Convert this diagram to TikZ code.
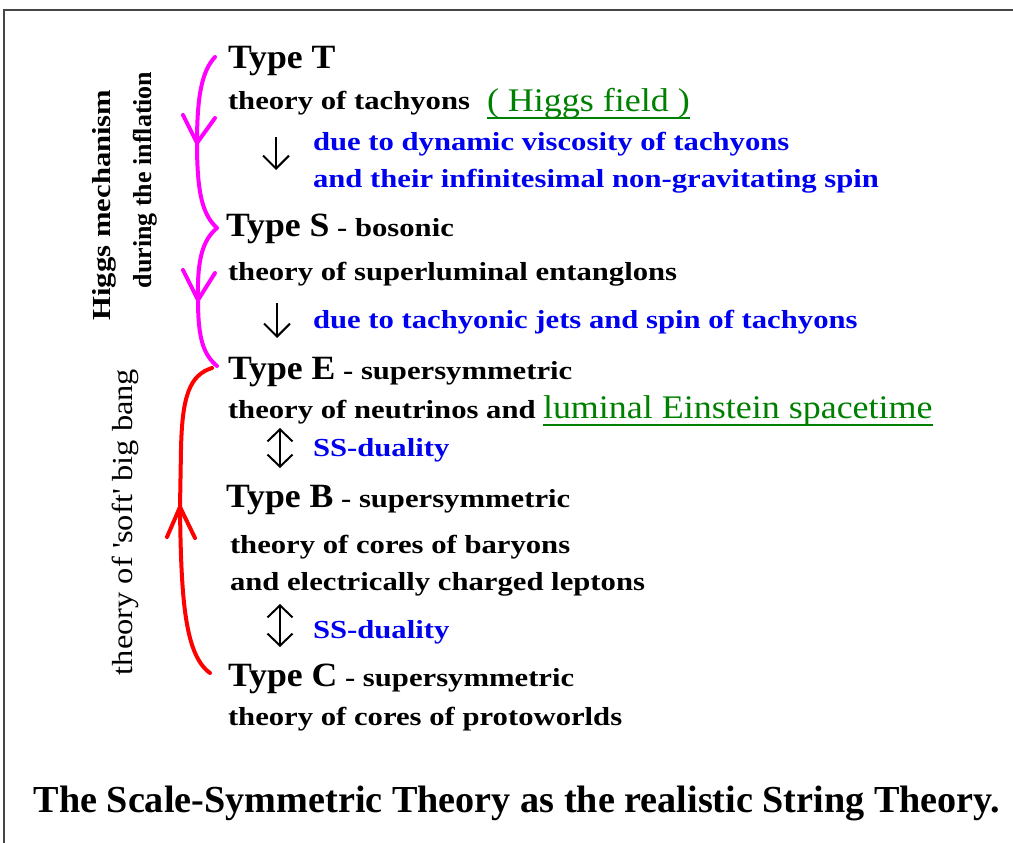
\documentclass[tikz,border=0pt]{standalone}
\usepackage{fontspec}
\setmainfont{Liberation Serif}
\newfontfamily\bodyf[FakeStretch=1.18]{Liberation Serif}
\newfontfamily\narrowf[FakeStretch=1.0]{Liberation Serif}
\newfontfamily\typef[FakeStretch=1.05]{Liberation Serif}
\newfontfamily\greenf[FakeStretch=1.09]{Liberation Serif}
\newfontfamily\softf[FakeStretch=1.12]{Liberation Serif}
\usetikzlibrary{arrows.meta}
\definecolor{txtblue}{RGB}{0,0,240}
\definecolor{txtgreen}{RGB}{0,128,0}
\definecolor{magline}{RGB}{255,0,255}
\definecolor{redline}{RGB}{255,0,0}
\definecolor{framegray}{RGB}{70,70,70}
\newcommand\tyfont{\typef\bfseries\fontsize{34}{40}\selectfont}
\begin{document}
\begin{tikzpicture}[x={(1pt,0)},y={(0,-1pt)},
  lbl/.style={anchor=base west,inner sep=0pt,outer sep=0pt,font=\bodyf\bfseries\fontsize{26}{30}\selectfont},
  bluelbl/.style={lbl,text=txtblue},
  greenlbl/.style={anchor=base west,inner sep=0pt,outer sep=0pt,text=txtgreen,font=\greenf\fontsize{33}{38}\selectfont},
  uline/.style={draw=txtgreen,line width=1.8pt},
  glyarrow/.style={draw=black,line width=2pt,-{Straight Barb[length=13pt,width=26pt]}},
  dualarrow/.style={draw=black,line width=2pt,{Straight Barb[length=12pt,width=25pt]}-{Straight Barb[length=12pt,width=25pt]}},
  magcurve/.style={draw=magline,line width=4pt,line cap=round,line join=round},
  redcurve/.style={draw=redline,line width=4pt,line cap=round,line join=round},
  vlbl/.style={rotate=90,inner sep=0pt,font=\bodyf\bfseries\fontsize{26}{30}\selectfont}]
\useasboundingbox[fill=white] (0,0) rectangle (1013,843);
% frame
\draw[framegray,line width=2.5pt] (4,843) -- (4,10) -- (1013,10);

% Type T
\node[lbl] (typeT) at (228,69) {\tyfont Type T};
\node[lbl] (thT) at (228,110) {theory of tachyons};
\node[greenlbl] (higgs) at (487,111) {( Higgs field )};
\draw[uline] (higgs.south west) -- (higgs.south east);
\coordinate (a1s) at (276,137);
\coordinate (a1e) at (276,170);
\draw[glyarrow] (a1s) -- (a1e);
\node[bluelbl] (blue1) at (313,150) {due to dynamic viscosity of tachyons};
\node[bluelbl] (blue2) at (313,187) {and their infinitesimal non-gravitating spin};

% Type S
\node[lbl] (typeS) at (226,236) {{\tyfont Type S} - bosonic};
\node[lbl] (thS) at (228,280) {theory of superluminal entanglons};
\coordinate (a2s) at (277,303);
\coordinate (a2e) at (277,338);
\draw[glyarrow] (a2s) -- (a2e);
\node[bluelbl] (blue3) at (313,328) {due to tachyonic jets and spin of tachyons};

% Type E
\node[lbl] (typeE) at (228,379) {{\tyfont Type E} - supersymmetric};
\node[lbl] (thE) at (228,418) {theory of neutrinos and};
\node[greenlbl] (lum) at (543,418) {luminal Einstein spacetime};
\draw[uline] (lum.south west) -- (lum.south east);
\coordinate (d1s) at (280,428);
\coordinate (d1e) at (280,468);
\draw[dualarrow] (d1s) -- (d1e);
\node[bluelbl] (ss1) at (313,456) {SS-duality};

% Type B
\node[lbl] (typeB) at (226,507) {{\tyfont Type B} - supersymmetric};
\node[lbl] (thB1) at (230,553) {theory of cores of baryons};
\node[lbl] (thB2) at (230,590) {and electrically charged leptons};
\coordinate (d2s) at (280,604);
\coordinate (d2e) at (280,647);
\draw[dualarrow] (d2s) -- (d2e);
\node[bluelbl] (ss2) at (313,638) {SS-duality};

% Type C
\node[lbl] (typeC) at (228,686) {{\tyfont Type C} - supersymmetric};
\node[lbl] (thC) at (228,725) {theory of cores of protoworlds};

% caption
\node[anchor=base,inner sep=0pt,font=\bfseries\fontsize{38.2}{44}\selectfont] (caption) at (517,812)
  {The Scale-Symmetric Theory as the realistic String Theory.};

% vertical labels
\node[vlbl] (higgsmech) at (104,205) {Higgs mechanism};
\node[vlbl,font=\narrowf\bfseries\fontsize{26}{30}\selectfont] (during) at (145,180) {during the inflation};
\node[rotate=90,inner sep=0pt,font=\softf\fontsize{29}{34}\selectfont] (softbb) at (125,522)
  {theory of \textquotesingle soft\textquotesingle\ big bang};

% magenta bracket with arrows
\draw[magcurve] (215,57) .. controls (203,70) and (197,92) .. (197,143)
  .. controls (197,195) and (203,215) .. (217,228)
  .. controls (203,240) and (197,258) .. (198,300)
  .. controls (198,340) and (204,355) .. (217,366);
\draw[magcurve] (183,115) -- (197,143) -- (215,118);
\draw[magcurve] (183,270) -- (198,300) -- (215,273);

% red bracket with arrow
\draw[redcurve] (212,368) .. controls (190,375) and (182,395) .. (181,450)
  -- (180,507) .. controls (181,600) and (185,655) .. (210,673);
\draw[redcurve] (167,537) -- (180,507) -- (195,538);
\end{tikzpicture}
\end{document}
